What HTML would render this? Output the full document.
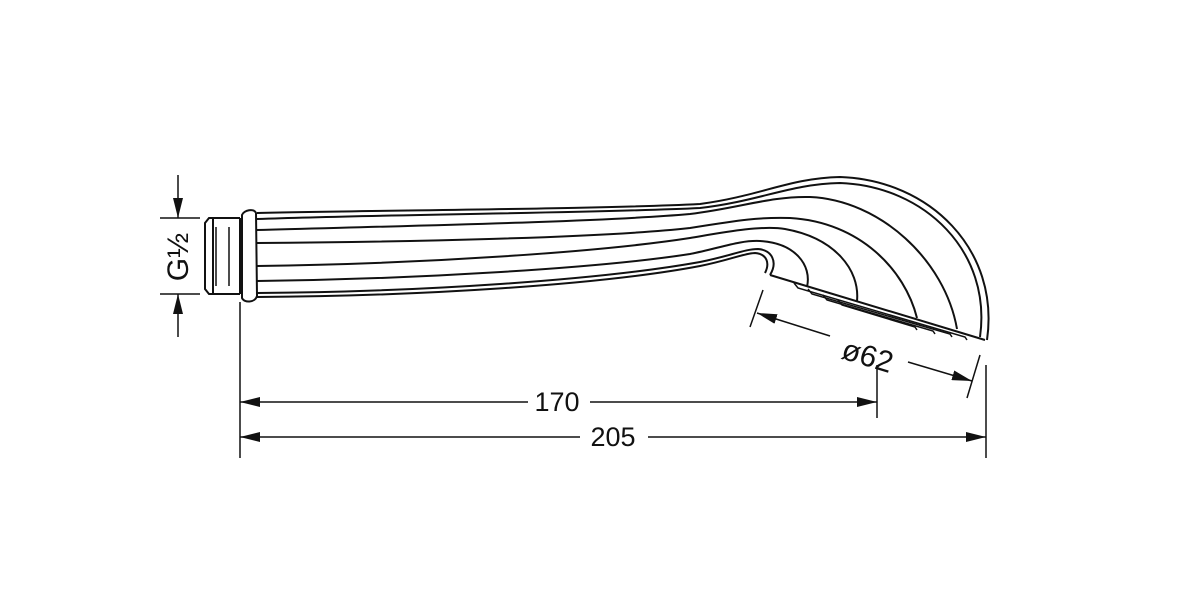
<!DOCTYPE html>
<html><head><style>html,body{margin:0;padding:0;background:#fff}</style></head><body>
<svg width="1202" height="588" viewBox="0 0 1202 588" xmlns="http://www.w3.org/2000/svg">
<defs>
<marker id="ar" viewBox="0 0 20 10" refX="20" refY="5" markerWidth="20" markerHeight="10" markerUnits="userSpaceOnUse" orient="auto"><path d="M0,0 L20,5 L0,10 Z" fill="#111"/></marker>
</defs>
<g fill="none" stroke="#111" stroke-width="2">
<path d="M240,218 L209,218 L205,223 L205,289 L209,294 L240,294"/>
<line x1="213" y1="218" x2="213" y2="294"/>
<line x1="216" y1="227" x2="216" y2="286" stroke-width="1.5"/>
<line x1="229" y1="227" x2="229" y2="286" stroke-width="1.5"/>
<line x1="240" y1="218" x2="240" y2="294"/>
<path d="M242,215 C244,210 254,208 256,213 L257,296 C255,303 244,303 242,298 Z"/>
<path d="M257,213 C400,210 600,209 700,204 C760,196 790,178 840,177 C930,180 1000,250 987,340"/>
<path d="M257,219 C400,214 600,213 700,208 C760,201 790,184 840,183 C925,186 992,252 980,337"/>
<path d="M257,230 C400,226 600,222 690,214 C740,208 770,196 810,197 C880,200 945,260 957,329"/>
<path d="M257,243 C400,242 600,238 690,228 C740,220 760,217 790,218 C860,222 905,270 917,318"/>
<path d="M257,266 C420,264 600,252 690,238 C720,233 760,225 785,229 C835,238 860,270 857,301"/>
<path d="M257,281 C420,279 600,268 690,254 C720,248 740,240 760,241 C795,243 812,265 807,287"/>
<path d="M257,293 C420,292 600,280 700,262 C730,256 745,249 758,249 C772,250 778,262 770,275"/>
<path d="M257,297 C420,296 600,285 700,266 C730,260 745,253 755,253 C767,254 770,263 765,273"/>
<path d="M770,275 L985,340"/>
<path d="M794,283 L798,288 L965,337 L967,340" stroke-width="1.5"/>
<path d="M808,289 L812,294 L950,334 L952,337" stroke-width="1.5"/>
<path d="M823,295 L827,300 L933,331 L935,334" stroke-width="1.5"/>
<path d="M838,300 L842,305 L915,327 L917,330" stroke-width="1.5"/>
<line x1="160" y1="218" x2="200" y2="218" stroke-width="1.5"/>
<line x1="160" y1="294" x2="200" y2="294" stroke-width="1.5"/>
<line x1="178" y1="175" x2="178" y2="218" stroke-width="1.5" marker-end="url(#ar)"/>
<line x1="178" y1="337" x2="178" y2="294" stroke-width="1.5" marker-end="url(#ar)"/>
<line x1="240" y1="302" x2="240" y2="458" stroke-width="1.5"/>
<line x1="877" y1="365" x2="877" y2="418" stroke-width="1.5"/>
<line x1="986" y1="365" x2="986" y2="458" stroke-width="1.5"/>
<line x1="528" y1="402" x2="240" y2="402" stroke-width="1.5" marker-end="url(#ar)"/>
<line x1="590" y1="402" x2="877" y2="402" stroke-width="1.5" marker-end="url(#ar)"/>
<line x1="580" y1="437" x2="240" y2="437" stroke-width="1.5" marker-end="url(#ar)"/>
<line x1="648" y1="437" x2="986" y2="437" stroke-width="1.5" marker-end="url(#ar)"/>
<line x1="750" y1="327" x2="763" y2="290" stroke-width="1.5"/>
<line x1="967" y1="398" x2="980" y2="355" stroke-width="1.5"/>
<line x1="830" y1="336" x2="757" y2="313" stroke-width="1.5" marker-end="url(#ar)"/>
<line x1="908" y1="362" x2="972" y2="381" stroke-width="1.5" marker-end="url(#ar)"/>
</g>
<g font-family="Liberation Sans, sans-serif" font-size="27" fill="#111">
<text x="557" y="411" text-anchor="middle">170</text>
<text x="613" y="446" text-anchor="middle">205</text>
<text x="868" y="366" text-anchor="middle" transform="rotate(17 868 355)" font-size="30">ø62</text>
<text x="178" y="267" text-anchor="middle" transform="rotate(-90 178 257)" font-size="30">G½</text>
</g>
</svg>
</body></html>
